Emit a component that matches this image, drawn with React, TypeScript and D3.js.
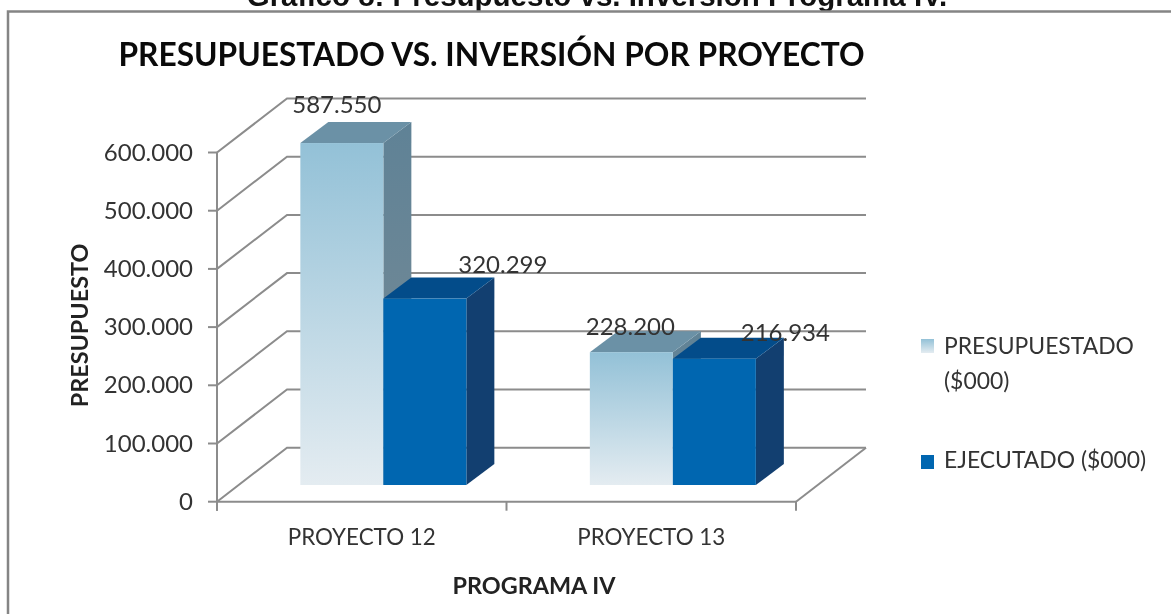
import React from 'react';
import * as d3 from 'd3';

const categories = ['PROYECTO 12', 'PROYECTO 13'];
const seriesNames = ['PRESUPUESTADO', 'EJECUTADO'];
const presupuestado = [587550, 228200];
const ejecutado = [320299, 216934];
const yTicks = [0, 100000, 200000, 300000, 400000, 500000, 600000];

const W = 1171;
const H = 614;
const font = 'Lato, sans-serif';
const textColor = '#333';
const grid = '#8c8c8c';

// perspective of the 3D box
const depthX = 70;
const depthY = -54;
const floorX = 21.6;
const floorY = -16.7;
const barDepthX = 28;
const barDepthY = -21;

const y = d3.scaleLinear().domain([0, 600000]).range([501.7, 152.5]);
const x0 = d3.scaleBand().domain(categories).range([217, 796]);
const x1 = d3.scaleBand().domain(seriesNames).range([x0.bandwidth() / 2 - 83, x0.bandwidth() / 2 + 83]);
const fmt = (v: number) => d3.format(',')(v).replace(/,/g, '.');
const poly = d3.line();

const labelOffsets = [
  [[-5, -30], [78, -26]],
  [[-1, -17], [71, -18]],
];

export default function App() {
  const barW = x1.bandwidth();
  const bars = categories.flatMap((c, i) => [
    { c, i, s: 0, v: presupuestado[i] },
    { c, i, s: 1, v: ejecutado[i] },
  ]);
  return (
    <svg width={W} height={H} style={{ position: 'absolute', left: 0, top: 0, background: '#fff', filter: 'blur(0.4px)' }} fontFamily={font}>
      <defs>
        <linearGradient id="light" x1="0" y1="0" x2="0" y2="1">
          <stop offset="0" stopColor="#93c1d7" />
          <stop offset="1" stopColor="#e4ecf1" />
        </linearGradient>
        <linearGradient id="lightSide" x1="0" y1="0" x2="0" y2="1">
          <stop offset="0" stopColor="#5f8296" />
          <stop offset="1" stopColor="#7a8c96" />
        </linearGradient>
      </defs>

      <text x={597} y={5.5} textAnchor="middle" fontFamily="'Liberation Sans', Arial, sans-serif" fontWeight="bold" fontSize={29.5} fill="#111">
        Gráfico 8: Presupuesto vs. Inversión Programa IV.
      </text>
      <path d={`M8,${H + 5}V11.5H${W + 5}`} fill="none" stroke="#858585" strokeWidth={2.5} />

      <text x={491.5} y={66} textAnchor="middle" fontWeight="bold" fontSize={31.7} fill="#0a0a0a">
        PRESUPUESTADO VS. INVERSIÓN POR PROYECTO
      </text>

      {/* back wall lines and floor */}
      <g fill="none" stroke={grid} strokeWidth={2}>
        {yTicks.map(t => (
          <path key={t} d={poly([[217, y(t)], [217 + depthX, y(t) + depthY], [796 + depthX, y(t) + depthY]]) as string} />
        ))}
        <path d={poly([[796, y(0)], [796 + depthX, y(0) + depthY]]) as string} />
        <path d={`M217,${y(600000)}V${y(0) + 9}`} />
        <path d={`M217,${y(0)}H796`} />
        {yTicks.map(t => (
          <path key={t} d={`M208,${y(t)}H217`} />
        ))}
        {[217, x0(categories[1]) as number, 796].map(v => (
          <path key={v} d={`M${v},${y(0)}v9`} />
        ))}
      </g>

      {/* bars, back to front */}
      {bars.map(b => {
        const left = (x0(b.c) as number) + (x1(seriesNames[b.s]) as number) + floorX;
        const base = y(0) + floorY;
        const top = y(b.v) + floorY;
        const right = left + barW;
        const colors = b.s === 0
          ? { front: 'url(#light)', top: '#6b91a6', side: 'url(#lightSide)' }
          : { front: '#0066b0', top: '#034c8a', side: '#123f70' };
        return (
          <g key={`${b.c}-${b.s}`}>
            <path fill={colors.side} d={poly([[right, top], [right + barDepthX, top + barDepthY], [right + barDepthX, base + barDepthY], [right, base]]) + 'Z'} />
            <path fill={colors.top} d={poly([[left, top], [left + barDepthX, top + barDepthY], [right + barDepthX, top + barDepthY], [right, top]]) + 'Z'} />
            <rect x={left} y={top} width={barW} height={base - top} fill={colors.front} />
          </g>
        );
      })}

      {/* value labels */}
      {bars.map(b => {
        const left = (x0(b.c) as number) + (x1(seriesNames[b.s]) as number) + floorX;
        const [dx, dy] = labelOffsets[b.i][b.s];
        return (
          <text key={b.c + b.s} x={left + barW / 2 + dx} y={y(b.v) + floorY + dy} textAnchor="middle" fontSize={24} fill={textColor}>
            {fmt(b.v)}
          </text>
        );
      })}

      {/* axis labels */}
      {yTicks.map(t => (
        <text key={t} x={193} y={y(t) + 8} textAnchor="end" fontSize={24} fill={textColor}>
          {fmt(t)}
        </text>
      ))}
      {categories.map(c => (
        <text key={c} x={(x0(c) as number) + x0.bandwidth() / 2} y={545} textAnchor="middle" fontSize={22.4} fill={textColor}>
          {c}
        </text>
      ))}
      <text x={534} y={594} textAnchor="middle" fontWeight="bold" fontSize={23.4} fill="#222">PROGRAMA IV</text>
      <text transform="translate(88,325.5) rotate(-90)" textAnchor="middle" fontWeight="bold" fontSize={23.4} fill="#222">PRESUPUESTO</text>

      {/* legend */}
      <rect x={921} y={339} width={13} height={14} fill="url(#light)" />
      <text x={944} y={354} fontSize={22.9} fill={textColor}>{seriesNames[0]}</text>
      <text x={944} y={389} fontSize={22.9} fill={textColor}>($000)</text>
      <rect x={921} y={455} width={13} height={14} fill="#0066b0" />
      <text x={944} y={468} fontSize={22.9} fill={textColor}>{seriesNames[1]} ($000)</text>
    </svg>
  );
}
